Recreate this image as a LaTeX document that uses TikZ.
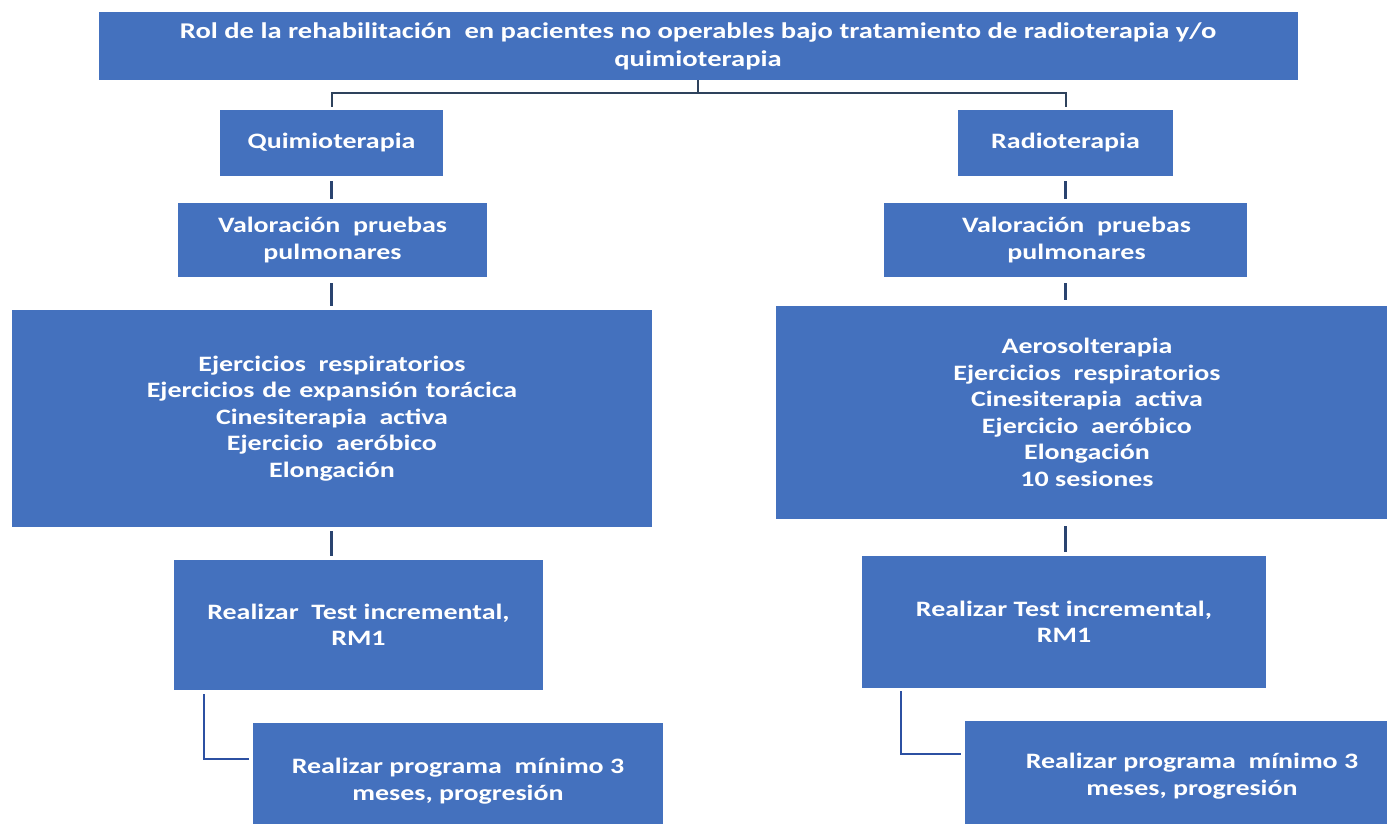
\documentclass[tikz,border=0pt]{standalone}
\usepackage{fontspec}
\setmainfont{Carlito}[FakeStretch=1.27]
\definecolor{boxblue}{RGB}{68,113,190}
\definecolor{topline}{RGB}{46,66,92}
\definecolor{stubline}{RGB}{42,68,112}
\definecolor{elbowline}{RGB}{44,80,162}
\tikzset{
  box/.style={fill=boxblue, draw=none, text=white, align=center, inner sep=0pt,
    font=\fontsize{22}{26.5}\selectfont\bfseries},
  topconn/.style={draw=topline, line width=2pt},
  stub/.style={draw=stubline, line width=2.6pt},
  elbow/.style={draw=elbowline, line width=2.4pt},
}
\begin{document}
\begin{tikzpicture}[x=1pt,y=-1pt]
\useasboundingbox (0,0) rectangle (1387,823);
\clip (0,0) rectangle (1387,823);
\fill[white] (0,0) rectangle (1387,823);

\node[box, minimum width=1199pt, minimum height=68pt, font=\fontsize{22.5}{28}\selectfont\bfseries] (title) at (698,46)
  {Rol de la rehabilitación\ \ en pacientes no operables bajo tratamiento de radioterapia y/o\\quimioterapia};

\node[box, minimum width=223pt, minimum height=66pt] (quimio) at (331.5,143) {Quimioterapia};
\node[box, minimum width=215pt, minimum height=66pt] (radio) at (1065.5,143) {Radioterapia};

\node[box, minimum width=309pt, minimum height=74pt] (valL) at (332.5,240) {Valoración\ \ pruebas\\pulmonares};
\node[box, minimum width=363pt, minimum height=74pt] (valR) at (1065.5,240) {\hspace*{22pt}Valoración\ \ pruebas\\\hspace*{22pt}pulmonares};

\node[box, minimum width=640pt, minimum height=217pt] (bigL) at (332,418.5)
  {Ejercicios\ \ respiratorios\\Ejercicios\hspace{8pt}de\hspace{8pt}expansión\hspace{8pt}torácica\\Cinesiterapia\ \ activa\\Ejercicio\ \ aeróbico\\Elongación};
\node[box, minimum width=622pt, minimum height=213pt] (bigR) at (1087,412.5)
  {Aerosolterapia\\Ejercicios\ \ respiratorios\\Cinesiterapia\ \ activa\\Ejercicio\ \ aeróbico\\Elongación\\10 sesiones};

\node[box, minimum width=369pt, minimum height=130pt] (testL) at (358.5,625) {Realizar\ \ Test incremental,\\RM1};
\node[box, minimum width=404pt, minimum height=132pt] (testR) at (1064,622) {Realizar Test incremental,\\RM1};

\node[box, minimum width=410pt, minimum height=116pt] (progL) at (458,781) {Realizar programa\ \ mínimo 3\\meses, progresión};
\node[box, minimum width=454pt, minimum height=110pt] (progR) at (1192,776) {Realizar programa\ \ mínimo 3\\meses, progresión};

% top connector
\coordinate (hb) at (0,93);
\draw[topconn] (title.south) -- (title.south |- hb);
\draw[topconn] ([yshift=3pt]quimio.north) |- (title.south |- hb) -| ([yshift=3pt]radio.north);

% left stubs
\draw[stub] ([yshift=-5pt]quimio.south) -- ([yshift=4pt]valL.north -| quimio.south);
\draw[stub] ([yshift=-6pt]valL.south -| quimio.south) -- ([yshift=4pt]bigL.north -| quimio.south);
\draw[stub] ([yshift=-4pt]bigL.south -| quimio.south) -- ([yshift=4pt]testL.north -| quimio.south);
% right stubs
\draw[stub] ([yshift=-5pt]radio.south) -- ([yshift=4pt]valR.north -| radio.south);
\draw[stub] ([yshift=-6pt]valR.south -| radio.south) -- ([yshift=6pt]bigR.north -| radio.south);
\draw[stub] ([yshift=-7pt]bigR.south -| radio.south) -- ([yshift=4pt]testR.north -| radio.south);

% elbows
\draw[elbow] ([xshift=30pt,yshift=-4pt]testL.south west) |- ([xshift=-4pt,yshift=22pt]progL.west);
\draw[elbow] ([xshift=39pt,yshift=-3pt]testR.south west) |- ([xshift=-4pt,yshift=22pt]progR.west);
\end{tikzpicture}
\end{document}
